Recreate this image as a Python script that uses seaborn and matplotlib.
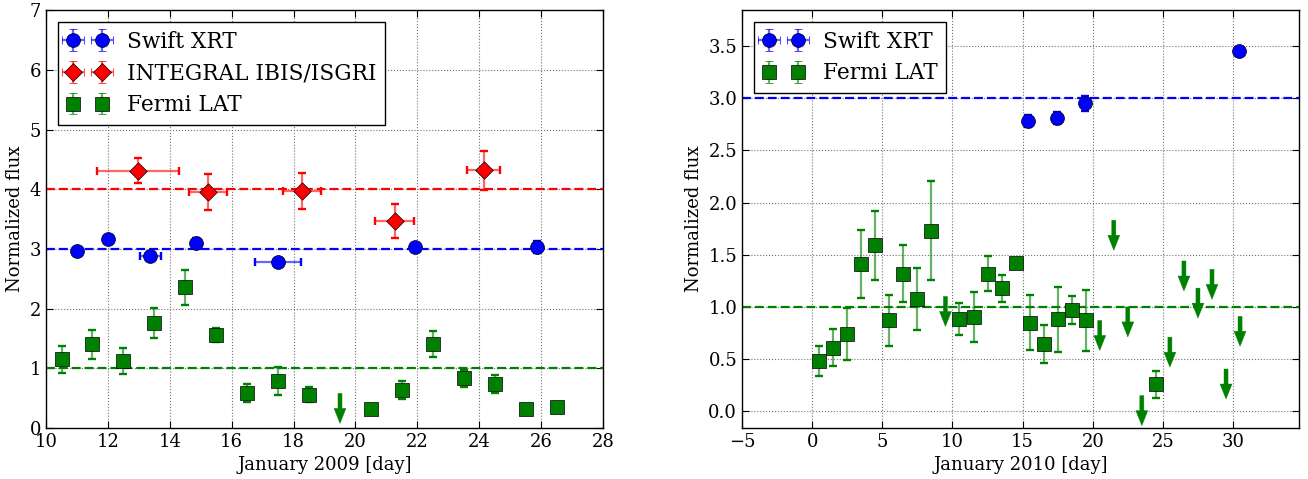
import numpy as np
import matplotlib
matplotlib.use("Agg")
import matplotlib.pyplot as plt
import matplotlib.transforms as mtransforms
import seaborn as sns

# ---------------- data: January 2009 ----------------
swift09_day = [11.0, 12.0, 13.37, 14.86, 17.5, 21.93, 25.86]
swift09_flux = [2.97, 3.17, 2.89, 3.10, 2.78, 3.03, 3.03]
swift09_xerr = [0.0, 0.0, 0.34, 0.0, 0.75, 0.0, 0.0]
swift09_yerr = [0.04, 0.05, 0.05, 0.09, 0.04, 0.05, 0.10]

integral_day = [12.98, 15.23, 18.27, 21.27, 24.15]
integral_flux = [4.31, 3.96, 3.98, 3.47, 4.32]
integral_xerr = [1.32, 0.62, 0.62, 0.63, 0.53]
integral_yerr = [0.21, 0.30, 0.30, 0.29, 0.33]

fermi09_day = [10.5, 11.5, 12.5, 13.5, 14.5, 15.5, 16.5, 17.5, 18.5,
               20.5, 21.5, 22.5, 23.5, 24.5, 25.5, 26.5]
fermi09_flux = [1.15, 1.40, 1.12, 1.76, 2.36, 1.56, 0.59, 0.79, 0.56,
                0.31, 0.63, 1.41, 0.83, 0.74, 0.31, 0.35]
fermi09_yerr = [0.22, 0.24, 0.22, 0.25, 0.29, 0.12, 0.15, 0.24, 0.12,
                0.0, 0.15, 0.22, 0.14, 0.15, 0.0, 0.05]
fermi09_ul_day = [19.5]
fermi09_ul = [0.58]

# ---------------- data: January 2010 ----------------
swift10_day = [15.35, 17.43, 19.47, 30.45]
swift10_flux = [2.78, 2.81, 2.95, 3.45]
swift10_xerr = [0.2, 0.2, 0.2, 0.2]
swift10_yerr = [0.06, 0.06, 0.07, 0.03]

fermi10_day = [0.5, 1.5, 2.5, 3.5, 4.5, 5.5, 6.5, 7.5, 8.5, 10.5, 11.5,
               12.5, 13.5, 14.5, 15.5, 16.5, 17.5, 18.5, 19.5, 24.5]
fermi10_flux = [0.485, 0.61, 0.74, 1.41, 1.59, 0.87, 1.32, 1.075, 1.73,
                0.885, 0.90, 1.32, 1.18, 1.42, 0.85, 0.645, 0.88, 0.97,
                0.87, 0.26]
fermi10_yerr = [0.145, 0.18, 0.245, 0.325, 0.33, 0.24, 0.275, 0.30, 0.475,
                0.15, 0.24, 0.165, 0.13, 0.03, 0.26, 0.18, 0.315, 0.13,
                0.29, 0.13]
fermi10_ul_day = [9.5, 20.5, 21.5, 22.5, 23.5, 25.5, 26.5, 27.5, 28.5,
                  29.5, 30.5]
fermi10_ul = [1.10, 0.87, 1.83, 1.00, 0.15, 0.71, 1.44, 1.18, 1.36,
              0.405, 0.91]

left_xticks = list(range(10, 29, 2))
left_yticks = list(range(0, 8))
right_xticks = list(range(-5, 31, 5))
right_yticks = [0.0, 0.5, 1.0, 1.5, 2.0, 2.5, 3.0, 3.5]

# ---------------- style ----------------
sns.set_style("ticks")
plt.rcParams.update({
    "font.family": ["DejaVu Serif"],
    "text.color": "k",
    "axes.labelcolor": "k",
    "xtick.color": "k",
    "ytick.color": "k",
    "axes.edgecolor": "k",
    "axes.linewidth": 1.0,
    "xtick.direction": "in",
    "ytick.direction": "in",
    "xtick.top": True,
    "ytick.right": True,
    "xtick.major.size": 5,
    "ytick.major.size": 5,
    "xtick.labelsize": 13,
    "ytick.labelsize": 13,
    "axes.labelsize": 13,
    "legend.fancybox": False,
    "legend.edgecolor": "k",
    "legend.framealpha": 1.0,
    "legend.numpoints": 2,
    "axes.unicode_minus": True,
})

BLUE, RED, GREEN = "#0000ff", "#ff0000", "#008000"

fig = plt.figure(figsize=(13.08, 4.79), dpi=100)
ax1 = fig.add_axes([0.0352, 0.1065, 0.4258, 0.8716])
ax2 = fig.add_axes([0.5673, 0.1065, 0.4258, 0.8716])

EB_KW = dict(elinewidth=1.6, capsize=2.6, capthick=1.7)


def series(ax, x, y, yerr, xerr, color, marker, ms, label):
    eb = ax.errorbar(x, y, yerr=yerr, xerr=xerr, fmt="none", ecolor=color,
                     zorder=2.5, **EB_KW)
    for lc in eb[2]:
        lc.set_alpha(0.6)
    sns.scatterplot(x=x, y=y, marker=marker, s=ms ** 2, color=color,
                    edgecolor="k", linewidth=0.5, ax=ax, zorder=3,
                    legend=False)
    # legend proxy (no visible data)
    proxy = ax.errorbar([np.nan], [np.nan], yerr=[1.0],
                        xerr=[1.0] if xerr is not None else None,
                        fmt=marker, color=color, ms=ms, mec="k", mew=0.5,
                        ecolor=color, label=label, **EB_KW)
    for lc in proxy[2]:
        lc.set_alpha(0.6)


def upper_limits(ax, x, ul, color):
    tip = mtransforms.offset_copy(ax.transData, fig=fig, y=-21.6,
                                  units="points")
    for xi, yi in zip(x, ul):
        ax.annotate("", xy=(xi, yi), xycoords=tip,
                    xytext=(xi, yi), textcoords="data",
                    arrowprops=dict(
                        arrowstyle="simple,head_length=1.08,head_width=0.86,tail_width=0.29",
                        mutation_scale=10, color=color, shrinkA=0,
                        shrinkB=0, lw=0.3),
                    zorder=3)


LEG_KW = dict(loc="upper left", fontsize=15.6, handlelength=1.94,
              handletextpad=0.85, borderaxespad=0.53, labelspacing=0.45,
              borderpad=0.4)

for ax in (ax1, ax2):
    ax.grid(True, color="0.45", linestyle=":", linewidth=0.8)
    ax.set_axisbelow(True)

# ---- left panel ----
ax1.axhline(3, color=BLUE, lw=1.6, dashes=(4, 1.8), zorder=2)
ax1.axhline(4, color=RED, lw=1.6, dashes=(4, 1.8), zorder=2)
ax1.axhline(1, color=GREEN, lw=1.6, dashes=(4, 1.8), zorder=2)
series(ax1, swift09_day, swift09_flux, swift09_yerr, swift09_xerr,
       BLUE, "o", 10, "Swift XRT")
series(ax1, integral_day, integral_flux, integral_yerr, integral_xerr,
       RED, "D", 8.9, "INTEGRAL IBIS/ISGRI")
series(ax1, fermi09_day, fermi09_flux, fermi09_yerr, None,
       GREEN, "s", 9.4, "Fermi LAT")
upper_limits(ax1, fermi09_ul_day, fermi09_ul, GREEN)
ax1.set_xlim(10, 28)
ax1.set_ylim(0, 7)
ax1.set_xticks(left_xticks)
ax1.set_yticks(left_yticks)
ax1.set_xlabel("January 2009 [day]")
ax1.set_ylabel("Normalized flux")
ax1.legend(**LEG_KW)

# ---- right panel ----
ax2.axhline(3, color=BLUE, lw=1.6, dashes=(4, 1.8), zorder=2)
ax2.axhline(1, color=GREEN, lw=1.6, dashes=(4, 1.8), zorder=2)
series(ax2, swift10_day, swift10_flux, swift10_yerr, swift10_xerr,
       BLUE, "o", 10, "Swift XRT")
series(ax2, fermi10_day, fermi10_flux, fermi10_yerr, None,
       GREEN, "s", 9.4, "Fermi LAT")
upper_limits(ax2, fermi10_ul_day, fermi10_ul, GREEN)
ax2.set_xlim(-5, 34.7)
ax2.set_ylim(-0.16, 3.84)
ax2.set_xticks(right_xticks)
ax2.set_yticks(right_yticks)
ax2.set_yticklabels([f"{v:.1f}" for v in right_yticks])
ax2.set_xlabel("January 2010 [day]")
ax2.set_ylabel("Normalized flux")
ax2.legend(**LEG_KW)

fig.savefig("out.png", dpi=100)
